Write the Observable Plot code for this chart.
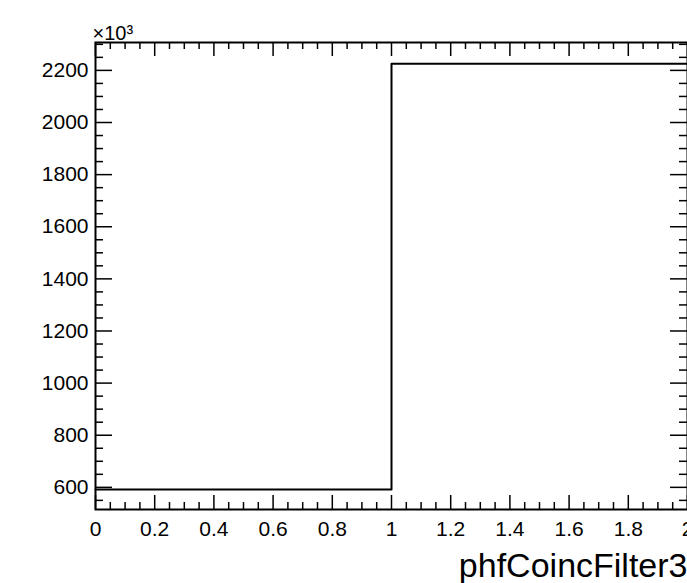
<!DOCTYPE html>
<html>
<head>
<meta charset="utf-8">
<script src="https://cdn.jsdelivr.net/npm/d3@7"></script>
<script src="https://cdn.jsdelivr.net/npm/@observablehq/plot@0.6"></script>
<style>
  html, body { margin: 0; padding: 0; background: #fff; }
  #chart svg { display: block; }
</style>
</head>
<body>
<div id="chart"></div>
<script>
// Histogram data (counts in units of 10^3)
const binEdges = [0, 1, 2];
const binCounts = [592, 2225];

// Axis tick values and labels
const xTickValues = [0, 0.2, 0.4, 0.6, 0.8, 1, 1.2, 1.4, 1.6, 1.8, 2];
const xTickLabels = ["0", "0.2", "0.4", "0.6", "0.8", "1", "1.2", "1.4", "1.6", "1.8", "2"];
const yTickValues = [600, 800, 1000, 1200, 1400, 1600, 1800, 2000, 2200];
const yTickLabels = ["600", "800", "1000", "1200", "1400", "1600", "1800", "2000", "2200"];
const xTitle = "phfCoincFilter3";
const yExponent = "×10³";

const W = 687, H = 583;
const mL = 95, mR = 0, mT = 42, mB = 74;
const innerW = W - mL - mR, innerH = H - mT - mB;

const xMinor = d3.range(0, 2.0001, 0.05).map(v => +v.toFixed(2)).filter(v => !xTickValues.includes(v));
const yMinor = d3.range(550, 2301, 50).filter(v => !yTickValues.includes(v));

const steps = binEdges.map((e, i) => ({x: e, y: binCounts[Math.min(i, binCounts.length - 1)]}));

const font = "Liberation Sans, Helvetica, Arial, sans-serif";

const chart = Plot.plot({
  width: W,
  height: H,
  marginLeft: mL,
  marginRight: mR,
  marginTop: mT,
  marginBottom: mB,
  style: {fontFamily: font, color: "#000", background: "#fff"},
  x: {domain: [0, 2], axis: null},
  y: {domain: [515, 2307], axis: null},
  marks: [
    // histogram outline
    Plot.line(steps, {x: "x", y: "y", curve: "step-after", stroke: "#000", strokeWidth: 2}),
    // y ticks: left (inward) and right (inward)
    Plot.ruleY(yTickValues, {stroke: "#000", strokeWidth: 1.5, insetRight: innerW - 17}),
    Plot.ruleY(yMinor, {stroke: "#000", strokeWidth: 1.5, insetRight: innerW - 8}),
    Plot.ruleY(yTickValues, {stroke: "#000", strokeWidth: 1.5, insetLeft: innerW - 17}),
    Plot.ruleY(yMinor, {stroke: "#000", strokeWidth: 1.5, insetLeft: innerW - 8}),
    // x ticks: bottom and top (inward)
    Plot.ruleX(xTickValues, {stroke: "#000", strokeWidth: 1.5, insetTop: innerH - 14}),
    Plot.ruleX(xMinor, {stroke: "#000", strokeWidth: 1.5, insetTop: innerH - 7}),
    Plot.ruleX(xTickValues, {stroke: "#000", strokeWidth: 1.5, insetBottom: innerH - 14}),
    Plot.ruleX(xMinor, {stroke: "#000", strokeWidth: 1.5, insetBottom: innerH - 7}),
    Plot.frame({stroke: "#000", strokeWidth: 2}),
    // tick labels
    Plot.axisY(yTickValues, {
      anchor: "left", tickSize: 0, tickPadding: 7, fontSize: 21, label: null,
      tickFormat: (d, i) => yTickLabels[i], fill: "#000"
    }),
    Plot.axisX(xTickValues, {
      anchor: "bottom", tickSize: 0, tickPadding: 12, fontSize: 21, label: null,
      tickFormat: (d, i) => xTickLabels[i], fill: "#000"
    }),
    // axis title
    Plot.text([xTitle], {
      frameAnchor: "bottom-right", text: d => d, textAnchor: "end", lineAnchor: "bottom",
      dy: 67, dx: 0, fontSize: 34, fill: "#000"
    }),
    // exponent label
    Plot.text([yExponent], {
      frameAnchor: "top-left", text: d => d, textAnchor: "start", lineAnchor: "bottom",
      dy: -3, dx: -3, fontSize: 20, fill: "#000"
    })
  ]
});

document.getElementById("chart").appendChild(chart);
</script>
</body>
</html>
